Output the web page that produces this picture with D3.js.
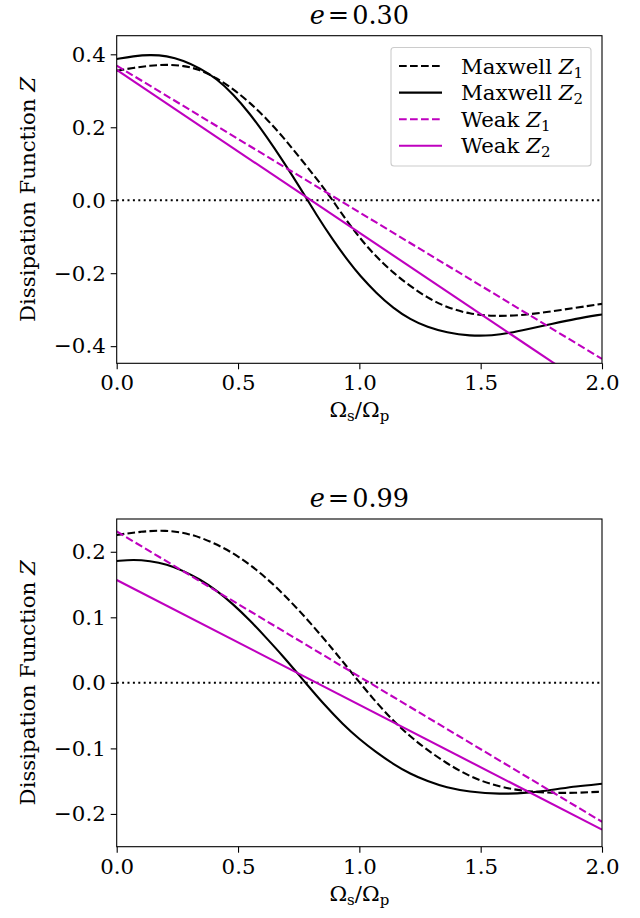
<!DOCTYPE html>
<html>
<head>
<meta charset="utf-8">
<script src="https://cdn.jsdelivr.net/npm/d3@7"></script>
<style>
    body { margin: 0; background: #fff; }
    svg text { font-family: "DejaVu Serif", serif !important; fill: #000; }
</style>
</head>
<body>
<div id="chart"></div>
<script>
// x ticks shared by both panels
const xTicks = [0, 0.5, 1.0, 1.5, 2.0];
const topYTicks = [-0.4, -0.2, 0, 0.2, 0.4];
const bottomYTicks = [-0.2, -0.1, 0, 0.1, 0.2];
const eccentricities = ["0.30", "0.99"];

// legend entries
const legendNames = ["Maxwell", "Maxwell", "Weak", "Weak"];
const legendSubs = ["1", "2", "1", "2"];

// e = 0.30
const topMaxwellZ1 = [[0, 0.355], [0.069, 0.363], [0.137, 0.369], [0.206, 0.372], [0.275, 0.369], [0.343, 0.358],
    [0.412, 0.335], [0.48, 0.305], [0.548, 0.268], [0.617, 0.224], [0.686, 0.173], [0.754, 0.117], [0.823, 0.060],
    [0.878, 0.011], [0.933, -0.042], [0.988, -0.092], [1.042, -0.135], [1.083, -0.163], [1.14, -0.199], [1.21, -0.236],
    [1.28, -0.267], [1.36, -0.294], [1.455, -0.312], [1.55, -0.318], [1.66, -0.316], [1.77, -0.307], [1.89, -0.295], [2.0, -0.284]];
const topMaxwellZ2 = [[0, 0.387], [0.069, 0.395], [0.137, 0.399], [0.206, 0.396], [0.275, 0.383], [0.343, 0.362],
    [0.412, 0.333], [0.48, 0.291], [0.548, 0.238], [0.617, 0.175], [0.686, 0.107], [0.754, 0.036], [0.823, -0.040],
    [0.892, -0.110], [0.96, -0.172], [1.0, -0.205], [1.07, -0.255], [1.14, -0.296], [1.21, -0.327], [1.28, -0.348],
    [1.36, -0.363], [1.455, -0.372], [1.55, -0.371], [1.62, -0.364], [1.69, -0.354], [1.80, -0.338], [1.89, -0.325], [2.0, -0.313]];
const topWeakZ1 = [[0, 0.369], [2.0, -0.435]];
const topWeakZ2 = [[0, 0.357], [2.0, -0.535]];

// e = 0.99
const bottomMaxwellZ1 = [[0, 0.2256], [0.1, 0.231], [0.2, 0.233], [0.3, 0.228], [0.4, 0.214], [0.5, 0.194], [0.6, 0.166],
    [0.7, 0.131], [0.8, 0.091], [0.9, 0.047], [0.95, 0.024], [1.0, 0.001], [1.07, -0.030], [1.14, -0.058],
    [1.21, -0.082], [1.275, -0.101], [1.36, -0.123], [1.455, -0.143], [1.55, -0.156], [1.65, -0.164], [1.77, -0.168],
    [1.89, -0.168], [2.0, -0.166]];
const bottomMaxwellZ2 = [[0, 0.186], [0.069, 0.188], [0.137, 0.186], [0.206, 0.181], [0.275, 0.171], [0.343, 0.158],
    [0.412, 0.141], [0.48, 0.120], [0.55, 0.095], [0.618, 0.068], [0.687, 0.040], [0.742, 0.016], [0.783, -0.002],
    [0.852, -0.032], [0.934, -0.064], [1.0, -0.086], [1.07, -0.106], [1.14, -0.124], [1.21, -0.139], [1.28, -0.150],
    [1.36, -0.160], [1.45, -0.166], [1.58, -0.170], [1.69, -0.168], [1.80, -0.163], [1.89, -0.158], [2.0, -0.154]];
const bottomWeakZ1 = [[0, 0.231], [2.0, -0.212]];
const bottomWeakZ2 = [[0, 0.157], [2.0, -0.224]];

const magenta = "#bf00bf";
const styles = [
    {color: "#000", dash: "7.7,3.3"},
    {color: "#000", dash: null},
    {color: magenta, dash: "7.7,3.3"},
    {color: magenta, dash: null}
];

const W = 640, H = 918;
const fontSize = 21.3;
const subSize = 15;
const left = 116.7, right = 602;

const panels = [
    {e: eccentricities[0], top: 35.7, bottom: 363.3, yDomain: [-0.447, 0.451], yTicks: topYTicks,
        series: [topMaxwellZ1, topMaxwellZ2, topWeakZ1, topWeakZ2], legend: true},
    {e: eccentricities[1], top: 519, bottom: 846.7, yDomain: [-0.25, 0.25], yTicks: bottomYTicks,
        series: [bottomMaxwellZ1, bottomMaxwellZ2, bottomWeakZ1, bottomWeakZ2], legend: false}
];

const svg = d3.select("#chart").append("svg")
    .attr("width", W)
    .attr("height", H);

const fmt = d3.format(".1f");
const tickText = d => fmt(d).replace("-", "\u2212");

panels.forEach((p, i) => {
    const x = d3.scaleLinear().domain([0, 2]).range([left, right]);
    const y = d3.scaleLinear().domain(p.yDomain).range([p.bottom, p.top]);
    const g = svg.append("g");

    g.append("clipPath").attr("id", "clip" + i)
        .append("rect")
        .attr("x", left).attr("y", p.top)
        .attr("width", right - left).attr("height", p.bottom - p.top);

    const plot = g.append("g").attr("clip-path", `url(#clip${i})`);

    // zero line
    plot.append("line")
        .attr("x1", left).attr("x2", right)
        .attr("y1", y(0)).attr("y2", y(0))
        .attr("stroke", "#000")
        .attr("stroke-width", 2)
        .attr("stroke-dasharray", "2,3.4");

    const line = d3.line()
        .x(d => x(d[0]))
        .y(d => y(d[1]))
        .curve(d3.curveBasis);

    p.series.forEach((s, k) => {
        plot.append("path")
            .datum(s)
            .attr("d", line)
            .attr("fill", "none")
            .attr("stroke", styles[k].color)
            .attr("stroke-width", 2.1)
            .attr("stroke-dasharray", styles[k].dash);
    });

    // axes
    const xAxis = d3.axisBottom(x).tickValues(xTicks).tickFormat(fmt).tickSizeOuter(0).tickSize(6).tickPadding(6);
    const yAxis = d3.axisLeft(y).tickValues(p.yTicks).tickFormat(tickText).tickSizeOuter(0).tickSize(6).tickPadding(5);

    g.append("g").attr("transform", `translate(0,${p.bottom})`).call(xAxis);
    g.append("g").attr("transform", `translate(${left},0)`).call(yAxis);

    g.selectAll(".tick line").attr("stroke-width", 1.1);
    g.selectAll(".tick text")
        .attr("font-size", fontSize);
    g.selectAll(".domain").remove();

    // frame
    g.append("rect")
        .attr("x", left).attr("y", p.top)
        .attr("width", right - left).attr("height", p.bottom - p.top)
        .attr("fill", "none")
        .attr("stroke", "#000")
        .attr("stroke-width", 1.1);

    // title
    const cx = (left + right) / 2;
    const title = g.append("text")
        .attr("x", cx).attr("y", p.top - 12)
        .attr("text-anchor", "middle")
        .attr("font-size", 25.5);
    title.append("tspan").attr("font-style", "italic").text("e");
    title.append("tspan").attr("dx", 3).text("=");
    title.append("tspan").attr("dx", 3).text(p.e);

    // x label
    const xl = g.append("text")
        .attr("x", cx).attr("y", p.bottom + 54)
        .attr("text-anchor", "middle")
        .attr("font-size", fontSize);
    xl.append("tspan").text("\u03A9");
    xl.append("tspan").attr("font-size", subSize).attr("dy", 4).text("s");
    xl.append("tspan").attr("dy", -4).text("/\u03A9");
    xl.append("tspan").attr("font-size", subSize).attr("dy", 4).text("p");

    // y label
    const yl = g.append("text")
        .attr("transform", `translate(35,${(p.top + p.bottom) / 2}) rotate(-90)`)
        .attr("text-anchor", "middle")
        .attr("font-size", fontSize);
    yl.append("tspan").text("Dissipation Function ");
    yl.append("tspan").attr("font-style", "italic").text("Z");

    if (p.legend) {
        const lg = g.append("g");
        lg.append("rect")
            .attr("x", 391).attr("y", 47.5)
            .attr("width", 200).attr("height", 118.5)
            .attr("rx", 3)
            .attr("fill", "#fff").attr("fill-opacity", 0.8)
            .attr("stroke", "#cccccc").attr("stroke-width", 1.1);
        legendNames.forEach((name, k) => {
            const ly = 66 + k * 26.6;
            lg.append("line")
                .attr("x1", 399).attr("x2", 442)
                .attr("y1", ly).attr("y2", ly)
                .attr("stroke", styles[k].color)
                .attr("stroke-width", 2.1)
                .attr("stroke-dasharray", styles[k].dash);
            const t = lg.append("text")
                .attr("x", 461).attr("y", ly + 7.5)
                .attr("font-size", fontSize);
            t.append("tspan").text(name + " ");
            t.append("tspan").attr("font-style", "italic").text("Z");
            t.append("tspan").attr("font-size", subSize).attr("dy", 4).text(legendSubs[k]);
        });
    }
});
</script>
</body>
</html>
